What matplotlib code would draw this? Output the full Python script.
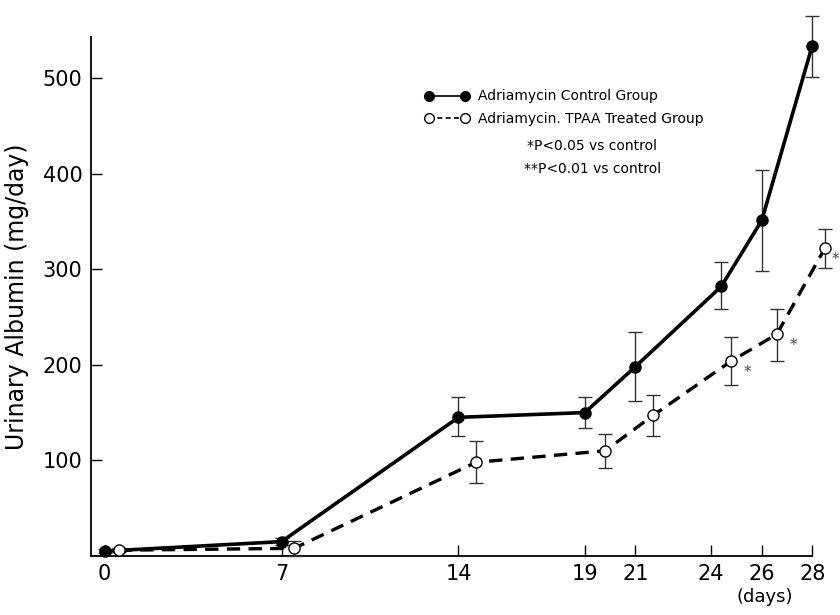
import numpy as np
import matplotlib.pyplot as plt

tick_days = [0, 7, 14, 19, 21, 24, 26, 28]

# control group (filled circles)
ctrl_x = [0, 7, 14, 19, 21, 24.4, 26, 28]
ctrl = [5, 15, 145, 150, 198, 282, 351, 534]
ctrl_lo = [2, 4, 19, 16, 36, 24, 53, 33]
ctrl_hi = [2, 4, 21, 16, 36, 25, 53, 31]

# TPAA treated group (open circles), plotted slightly right of the day
trt_x = [0.55, 7.5, 14.7, 19.8, 21.7, 24.8, 26.6, 28.5]
trt = [6, 8, 98, 110, 147, 204, 232, 322]
trt_lo = [2, 8, 22, 18, 21, 25, 28, 21]
trt_hi = [2, 8, 22, 18, 21, 25, 26, 20]
sig_idx = [5, 6, 7]

fig = plt.figure(figsize=(8.4, 6.15), dpi=100)
ax = fig.add_axes([0.108, 0.096, 0.859, 0.844])

ax.errorbar(ctrl_x, ctrl, yerr=[ctrl_lo, ctrl_hi], color='black', lw=2.6,
            marker='o', ms=8, mfc='black', mec='black', ecolor='#333333',
            elinewidth=1, capsize=5, capthick=1, clip_on=False, zorder=3)
ax.errorbar(trt_x, trt, yerr=[trt_lo, trt_hi], color='black', lw=2.4, ls=(0, (4, 2.5)),
            marker='o', ms=8, mfc='white', mec='black', mew=1, ecolor='#333333',
            elinewidth=1, capsize=5, capthick=1, clip_on=False, zorder=3)

star_dx = [0.5, 0.5, 0.25]
for i, dx in zip(sig_idx, star_dx):
    ax.text(trt_x[i] + dx, trt[i] - 12, '*', fontsize=11, color='#444444',
            ha='left', va='center', clip_on=False)

ax.set_xlim(-0.55, 28)
ax.set_ylim(0, 543)
ax.set_xticks(tick_days)
ax.set_xticklabels([str(d) for d in tick_days])
ax.set_yticks([100, 200, 300, 400, 500])

for s in ['top', 'right']:
    ax.spines[s].set_visible(False)
for s in ['left', 'bottom']:
    ax.spines[s].set_linewidth(1.3)

ax.tick_params(axis='both', direction='in', length=8, width=1, labelsize=15, pad=6)

ax.set_ylabel('Urinary Albumin (mg/day)', fontsize=17, labelpad=10)
fig.text(0.91, 0.03, '(days)', fontsize=13, ha='center', va='center')

h1, = ax.plot([], [], color='black', lw=1.2, marker='o', ms=7, mfc='black', mec='black')
h2, = ax.plot([], [], color='black', lw=1.2, ls=(0, (3, 2)), marker='o', ms=7,
              mfc='white', mec='black')
fig.legend([h1, h2], ['Adriamycin Control Group', 'Adriamycin. TPAA Treated Group'],
           loc='upper left', bbox_to_anchor=(0.491, 0.875), numpoints=2,
           frameon=False, fontsize=10, handlelength=3.2, handletextpad=0.6,
           labelspacing=0.6)
fig.text(0.705, 0.762, '*P<0.05 vs control', fontsize=10, ha='center', va='center')
fig.text(0.705, 0.725, '**P<0.01 vs control', fontsize=10, ha='center', va='center')

fig.savefig('out.png', dpi=100)
